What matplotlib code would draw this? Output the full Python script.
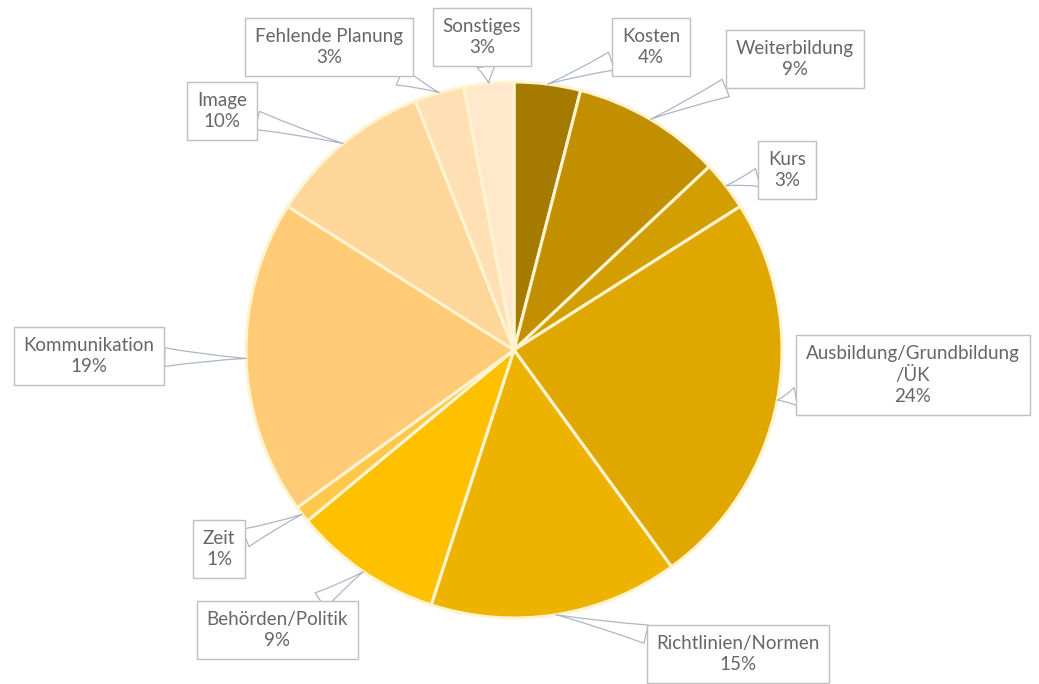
import matplotlib
matplotlib.use('Agg')
import matplotlib.pyplot as plt
import numpy as np

labels = ['Kosten', 'Weiterbildung', 'Kurs', 'Ausbildung/Grundbildung\n/ÜK',
          'Richtlinien/Normen', 'Behörden/Politik', 'Zeit', 'Kommunikation',
          'Image', 'Fehlende Planung', 'Sonstiges']
values = [4, 9, 3, 24, 15, 9, 1, 19, 10, 3, 3]
colors = ['#A47B00', '#C18F00', '#D39E00', '#DFA700', '#EEB300', '#FFC000',
          '#FFC84A', '#FFCB76', '#FFD699', '#FFE0B5', '#FFE8CC']

# label box centres in pixel coords (y measured from top)
box_pos = [(651, 47), (795, 59), (787, 170), (913, 375), (738, 654),
           (277, 630), (219, 549), (89, 356), (222, 111), (329, 47), (482, 37)]

W, H = 1039, 684
cx, cy, R = 514, H - 350, 268

fig = plt.figure(figsize=(W / 100, H / 100), dpi=100)
ax = fig.add_axes([0, 0, 1, 1])

wedges, _ = ax.pie(values, colors=colors, startangle=90, counterclock=False,
                   center=(cx, cy), radius=R, frame=True,
                   wedgeprops=dict(edgecolor='#FFF3D0', linewidth=2.2))
ax.set_xlim(0, W)
ax.set_ylim(0, H)
ax.set_aspect('equal')
ax.axis('off')

total = sum(values)
for w, lab, v, (bx, by) in zip(wedges, labels, values, box_pos):
    mid = np.deg2rad((w.theta1 + w.theta2) / 2)
    tip = (cx + R * np.cos(mid), cy + R * np.sin(mid))
    ax.annotate(f'{lab}\n{round(100 * v / total)}%', xy=tip, xytext=(bx, H - by),
                ha='center', va='center', fontsize=13.5, color='#666666',
                family='Lato', linespacing=1.3,
                bbox=dict(boxstyle='square,pad=0.52', fc='white', ec='#BFBFBF', lw=1),
                arrowprops=dict(arrowstyle='wedge,tail_width=1.0,shrink_factor=0.4',
                                fc='white', ec='#AEB6C6', lw=0.9,
                                shrinkA=0, shrinkB=0))

fig.savefig('out.png', dpi=100)
